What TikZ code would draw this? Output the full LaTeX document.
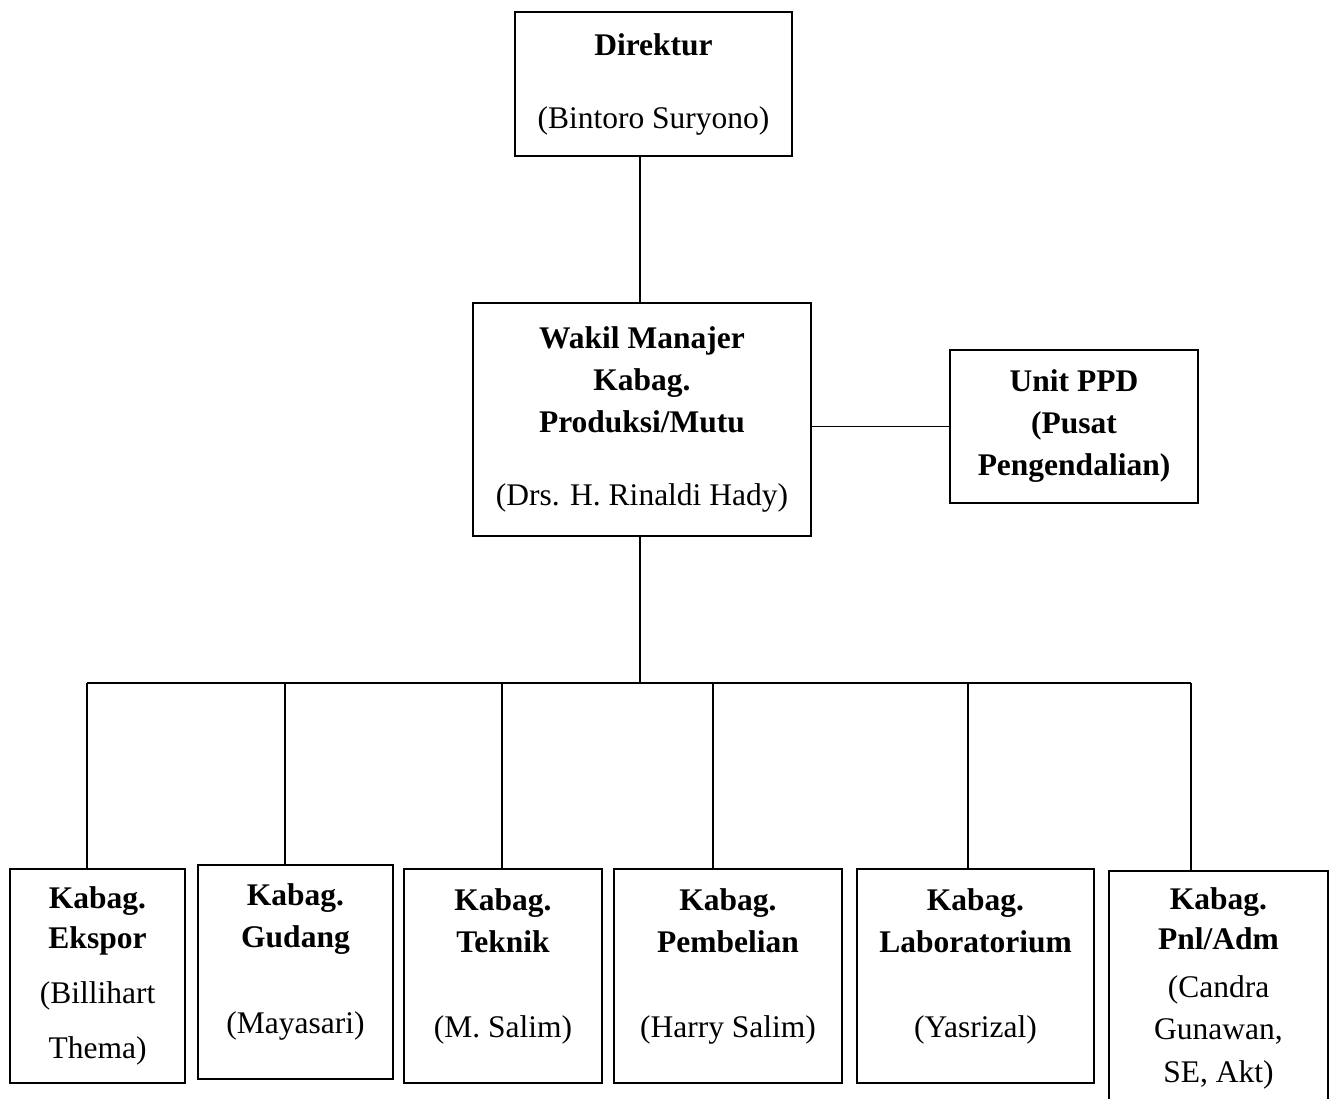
\documentclass[tikz,border=0pt]{standalone}
\usepackage{fontspec}
\setmainfont{Liberation Serif}
\newcommand{\turun}[1]{\rule[-#1]{0pt}{#1}}
\tikzset{
  kotak/.style={draw,line width=1.5pt,rectangle,align=center,inner sep=0pt,
    font=\fontsize{31.5}{42}\selectfont},
  garis/.style={line width=1.3pt}
}
\begin{document}
\begin{tikzpicture}[x=1pt,y=-1pt]
\useasboundingbox[fill=white] (0,0) rectangle (1333,1099);
% atas
\node[kotak,minimum width=277,minimum height=144] (direktur) at (653.5,84)
  {\textbf{Direktur}\\[31pt](Bintoro Suryono)};
\node[kotak,minimum width=338,minimum height=233] (wakil) at (642,419.5)
  {\textbf{Wakil Manajer}\\\textbf{Kabag.}\\\textbf{Produksi/Mutu}\\[31pt](Drs. H. Rinaldi Hady)};
\node[kotak,minimum width=248,minimum height=153] (unit) at (1074,426.5)
  {\textbf{Unit PPD}\\\textbf{(Pusat}\\\textbf{Pengendalian)}};
% bawah
\node[kotak,minimum width=175,minimum height=214] (ekspor) at (97.5,976)
  {\textbf{Kabag.}\\[-2pt]\textbf{Ekspor}\\[13pt](Billihart\\[13pt]Thema)};
\node[kotak,minimum width=195,minimum height=214] (gudang) at (295.5,972)
  {\textbf{Kabag.}\\\textbf{Gudang}\\[44pt](Mayasari)\turun{26pt}};
\node[kotak,minimum width=198,minimum height=214] (teknik) at (503,976)
  {\textbf{Kabag.}\\\textbf{Teknik}\\[43pt](M. Salim)\turun{26pt}};
\node[kotak,minimum width=228,minimum height=214] (pembelian) at (728,976)
  {\textbf{Kabag.}\\\textbf{Pembelian}\\[43pt](Harry Salim)\turun{26pt}};
\node[kotak,minimum width=237,minimum height=214] (lab) at (975.5,976)
  {\textbf{Kabag.}\\\textbf{Laboratorium}\\[43pt](Yasrizal)\turun{26pt}};
\node[kotak,minimum width=219,minimum height=234] (pnl) at (1218.5,988)
  {\textbf{Kabag.}\\[-2pt]\textbf{Pnl/Adm}\\[6pt](Candra\\Gunawan,\\[1pt]SE, Akt)};
% garis penghubung
\coordinate (bus) at (640,683);
\draw[garis] (direktur.south -| bus) -- (wakil.north -| bus);
\draw[garis] (wakil.east |- unit.west) -- (unit.west);
\draw[garis] (wakil.south -| bus) -- (bus);
\draw[garis] (87,683) -- (1191,683);
\foreach \n/\x in {ekspor/87,gudang/285,teknik/502,pembelian/713,lab/968,pnl/1191}
  \draw[garis] (\x,683) -- (\n.north -| \x,683);
\end{tikzpicture}
\end{document}
